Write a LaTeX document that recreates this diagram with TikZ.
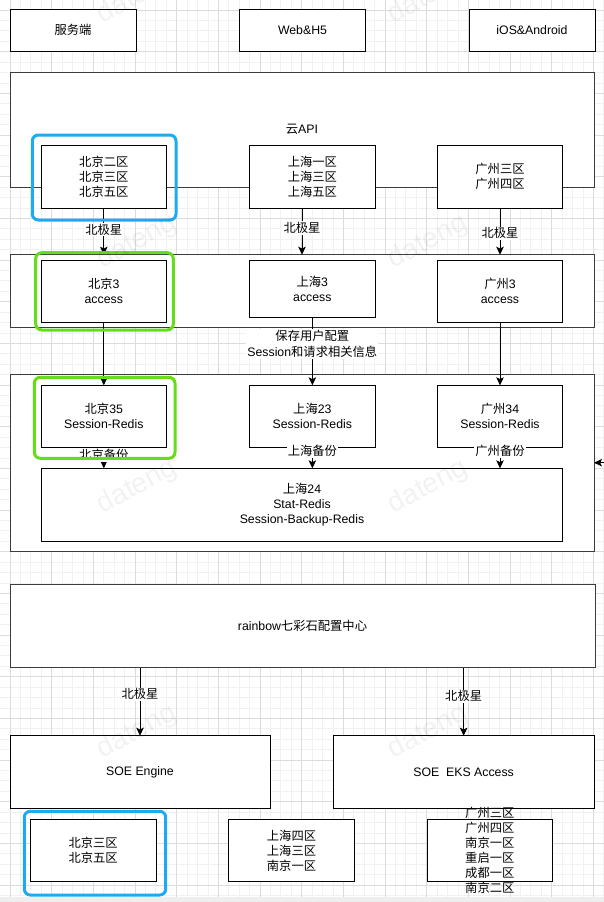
\documentclass[tikz,border=0pt]{standalone}
\usepackage{fontspec}
\setmainfont{Liberation Sans}
\newfontfamily\cjk{Noto Sans CJK SC}
\usetikzlibrary{arrows.meta}
\newcommand\zh[1]{{\cjk #1}}
\definecolor{gridminor}{RGB}{241,241,241}
\definecolor{gridmajor}{RGB}{220,220,220}
\definecolor{outerline}{RGB}{60,60,60}
\definecolor{hlblue}{RGB}{30,170,240}
\definecolor{hlgreen}{RGB}{102,221,26}
\definecolor{stripgray}{RGB}{238,238,238}
\tikzset{
  txt/.style={font=\fontsize{12.3}{15}\selectfont},
  box/.style={txt, draw=black, fill=white, line width=1pt, align=center,
    inner sep=0pt, outer sep=0pt, minimum width=125.3pt},
  outer/.style={txt, draw=outerline, fill=white, line width=1pt, align=center,
    inner sep=0pt, outer sep=0pt, minimum width=584pt},
  hilite/.style={draw=#1, line width=3pt, rounded corners=6pt, inner sep=0pt,
    outer sep=0pt},
  arr/.style={draw=black, line width=0.9pt,
    -{Stealth[length=8pt,width=7.5pt,inset=1.8pt]}},
  lbl/.style={txt, fill=white, inner sep=1pt, align=center},
  wm/.style={font=\fontsize{28}{30}\selectfont, text=black, opacity=0.05,
    rotate=28},
}
\begin{document}
\begin{tikzpicture}[x=1pt,y=-1pt]
\useasboundingbox (0,0) rectangle (604,902);

% background grid
\foreach \k in {-1,...,57}
  \draw[gridminor, line width=0.8pt] ({10+10.4167*\k},0) -- ({10+10.4167*\k},897);
\foreach \k in {-1,...,85}
  \draw[gridminor, line width=0.8pt] (0,{10+10.4167*\k}) -- (604,{10+10.4167*\k});
\foreach \k in {0,...,14}
  \draw[gridmajor, line width=0.8pt] ({10+41.667*\k},0) -- ({10+41.667*\k},897);
\foreach \k in {0,...,21}
  \draw[gridmajor, line width=0.8pt] (0,{10+41.667*\k}) -- (604,{10+41.667*\k});
\fill[stripgray] (0,897) rectangle (604,902);

% clients
\node[box, minimum width=126pt, minimum height=42pt] (srv) at (73,30.3) {\zh{服务端}};
\node[box, minimum width=126pt, minimum height=42pt] (web) at (302.5,30.3) {Web\&H5};
\node[box, minimum width=126pt, minimum height=42pt] (ios) at (532,30.3) {iOS\&Android};

% cloud API layer
\node[outer, minimum height=115pt] (api) at (302,129.5) {\zh{云}API};
\node[box, minimum height=62.7pt] (bj1) at (103.8,176.65) {\zh{北京二区}\\\zh{北京三区}\\\zh{北京五区}};
\node[box, minimum height=62.7pt] (sh1) at (312.35,176.65) {\zh{上海一区}\\\zh{上海三区}\\\zh{上海五区}};
\node[box, minimum height=62.7pt] (gz1) at (500,176.65) {\zh{广州三区}\\\zh{广州四区}};

% access layer
\node[outer, minimum height=73pt] (acc) at (302,291.2) {};
\node[box, minimum height=62.3pt] (bj3) at (103.8,291.15) {\zh{北京}3\\access};
\node[box, minimum height=57.3pt] (sh3) at (312.35,288.65) {\zh{上海}3\\access};
\node[box, minimum height=62.3pt] (gz3) at (500,291.15) {\zh{广州}3\\access};

% redis layer
\node[outer, minimum height=177.4pt] (redis) at (302,463) {};
\node[box, minimum height=62pt] (bj35) at (103.8,416.3) {\zh{北京}35\\Session-Redis};
\node[box, minimum height=62pt] (sh23) at (312.35,416.3) {\zh{上海}23\\Session-Redis};
\node[box, minimum height=62pt] (gz34) at (500,416.3) {\zh{广州}34\\Session-Redis};
\node[box, minimum width=521.4pt, minimum height=72.7pt] (sh24) at (302,504.65)
  {\zh{上海}24\\Stat-Redis\\Session-Backup-Redis};

% config center and engines
\node[outer, minimum width=585pt, minimum height=83.7pt] (rainbow) at (302.5,625.85) {rainbow\zh{七彩石配置中心}};
\node[box, minimum width=260pt, minimum height=72.8pt] (soe) at (140,772.1) {SOE Engine};
\node[box, minimum width=260.7pt, minimum height=72.6pt] (eks) at (463.65,772) {SOE\hspace{0.55em}EKS Access};
\node[box, minimum width=125.7pt, minimum height=62.4pt] (bjb) at (93.15,850.5) {\zh{北京三区}\\\zh{北京五区}};
\node[box, minimum width=125.6pt, minimum height=62.4pt] (shb) at (291.5,850.5) {\zh{上海四区}\\\zh{上海三区}\\\zh{南京一区}};
\node[box, minimum width=125pt, minimum height=62.4pt] (gzb) at (489.8,850.5) {};
\node[txt, align=center, inner sep=0pt] (gzbt) at (gzb.center)
  {\zh{广州三区}\\\zh{广州四区}\\\zh{南京一区}\\\zh{重启一区}\\\zh{成都一区}\\\zh{南京二区}};

% connectors: API -> access
\draw[arr] (bj1.south) -- (bj1.south |- acc.north) node[lbl, pos=0.46] (l1) {\zh{北极星}};
\draw[arr] ([xshift=-10.35pt]sh1.south) -- ([xshift=-10.35pt]sh1.south |- acc.north) node[lbl, pos=0.43] (l2) {\zh{北极星}};
\draw[arr] (gz1.south) -- (gz1.south |- acc.north) node[lbl, pos=0.54] (l3) {\zh{北极星}};

% access -> session redis
\draw[arr] (bj3.south) -- (bj35.north);
\draw[arr] (sh3.south) -- (sh23.north) node[lbl, pos=0.39, font=\fontsize{12.3}{16.3}\selectfont] (l4)
  {\zh{保存用户配置}\\Session\zh{和请求相关信息}};
\draw[arr] (gz3.south) -- (gz34.north);

% backups
\draw[arr] (bj35.south) -- (bj35.south |- sh24.north) node[lbl, pos=0.36] (l5) {\zh{北京备份}};
\draw[arr] (sh23.south) -- (sh23.south |- sh24.north) node[lbl, pos=0.18] (l6) {\zh{上海备份}};
\draw[arr] (gz34.south) -- (gz34.south |- sh24.north) node[lbl, pos=0.18] (l7) {\zh{广州备份}};

% incoming from the right
\coordinate (rin) at (612,462.7);
\draw[arr] (rin) -- (rin -| redis.east);

% config center -> engines
\draw[arr] (soe.north |- rainbow.south) -- (soe.north) node[lbl, pos=0.39] (l8) {\zh{北极星}};
\draw[arr] (eks.north |- rainbow.south) -- (eks.north) node[lbl, pos=0.42] (l9) {\zh{北极星}};

% highlights
\node[hilite=hlblue, minimum width=143.7pt, minimum height=85pt] (hb1) at (104.15,177.5) {};
\node[hilite=hlgreen, minimum width=137.6pt, minimum height=77.3pt] (hg1) at (104.5,291.35) {};
\node[hilite=hlgreen, minimum width=140.7pt, minimum height=81pt] (hg2) at (104.65,417.8) {};
\node[hilite=hlblue, minimum width=141.4pt, minimum height=83.7pt] (hb2) at (95,853.15) {};

% watermark
\foreach \wx in {137,428}
  \foreach \wy [count=\n] in {-3,242,487,732}
    \node[wm] (wm-\wx-\n) at (\wx,\wy) {dateng};
\end{tikzpicture}
\end{document}
